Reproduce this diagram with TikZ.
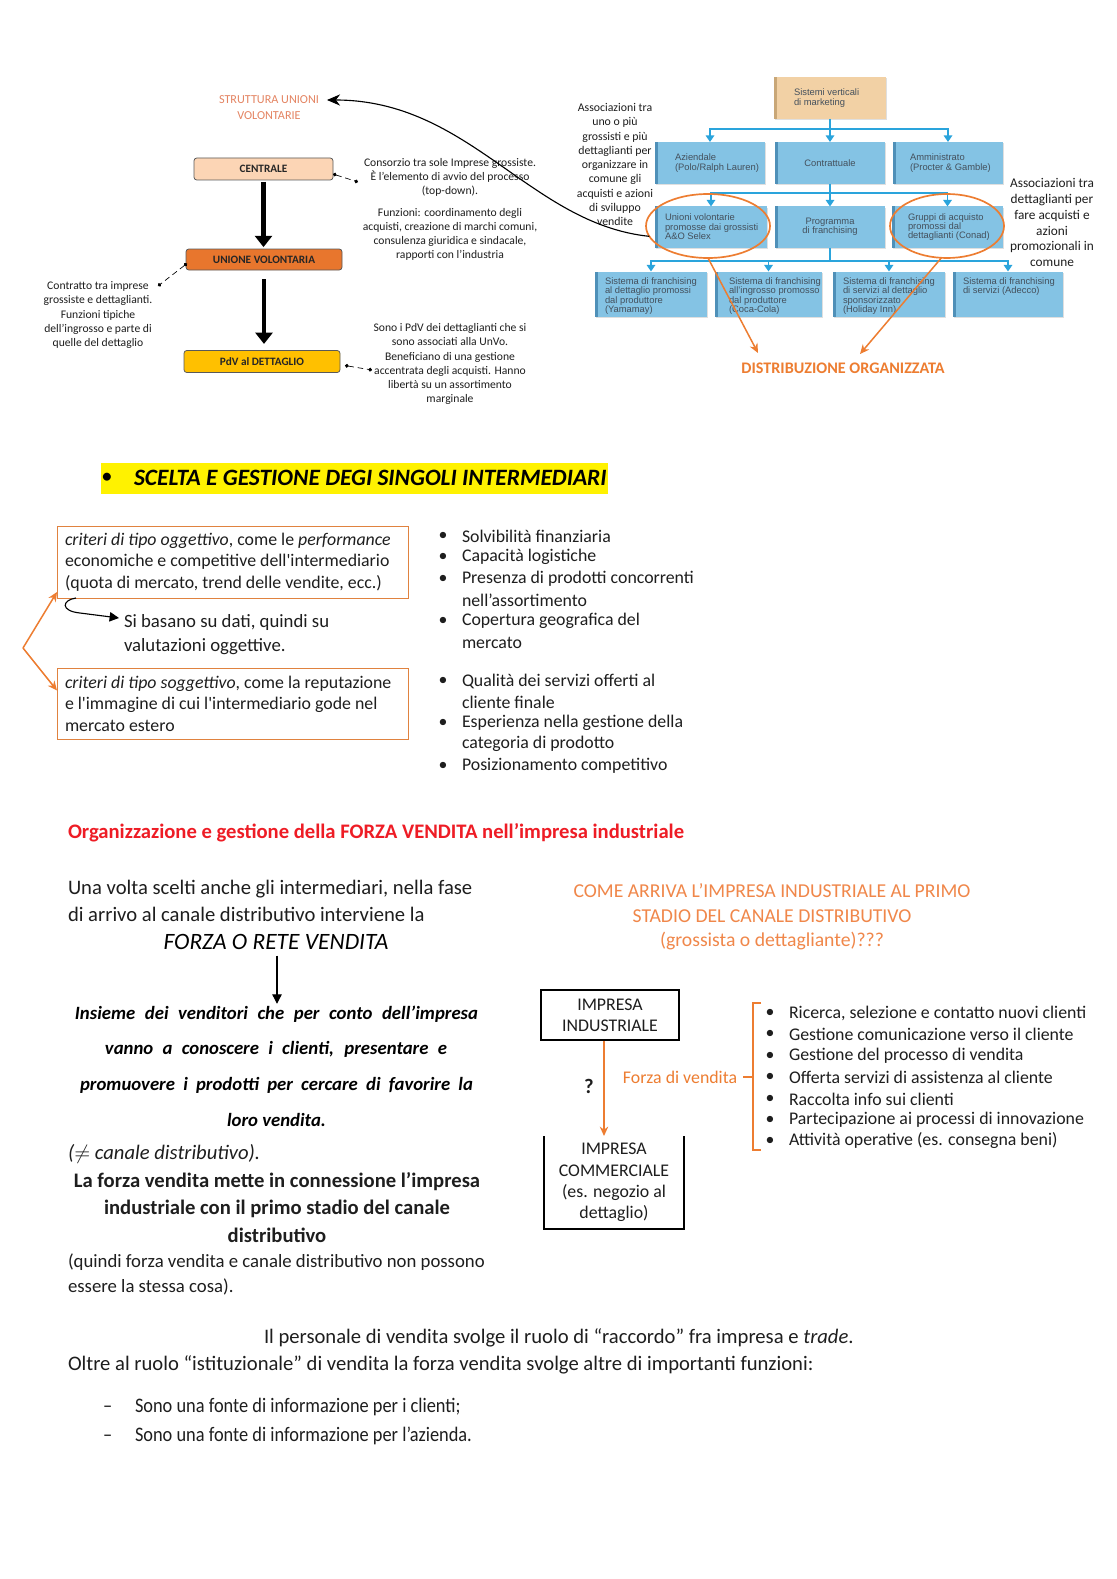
\documentclass[tikz,border=0pt]{standalone}
\usepackage{fontspec}
\setmainfont{Carlito}
\newfontfamily\arialf{Liberation Sans}
\newfontfamily\condf[FakeStretch=0.89]{Carlito}
\usetikzlibrary{arrows.meta,shapes.geometric,calc,shadows}
\newcommand\fs[2]{\fontsize{#1}{#2}\selectfont}
\definecolor{orng}{HTML}{ED7D31}
\definecolor{orngtxt}{HTML}{F0874A}
\definecolor{salmon}{HTML}{E48462}
\definecolor{peach}{HTML}{FCD5B5}
\definecolor{uvfill}{HTML}{E8762D}
\definecolor{gold}{HTML}{FFC000}
\definecolor{chartblue}{HTML}{84C3E4}
\definecolor{chartshadow}{HTML}{4F90B8}
\definecolor{tanshadow}{HTML}{C9A777}
\definecolor{chartline}{HTML}{2AA4DC}
\definecolor{tanfill}{HTML}{F2D1A5}
\definecolor{charttext}{HTML}{44505C}
\definecolor{redh}{HTML}{EE1C25}
\definecolor{txt}{HTML}{1E1E1E}
\definecolor{critborder}{HTML}{E0823F}
\tikzset{
  smalltxt/.style={font=\fs{6.2}{7.5}, align=center, text=txt},
  flowbox/.style={draw=black!65, line width=0.4pt, rounded corners=1.5pt, font=\bfseries\fs{6}{7}, text=black!85},
  bigarrow/.style={line width=2.6pt, -{Triangle[length=6pt,width=9pt]}},
  dotline/.style={densely dashed, line width=0.35pt, {Circle[length=2pt]}-{Circle[length=2pt]}},
  cbox/.style={fill=chartblue,
     drop shadow={opacity=0.25, shadow xshift=0.6pt, shadow yshift=-0.8pt},
     path picture={\fill[chartshadow] (path picture bounding box.south west) rectangle ([xshift=1.4pt]path picture bounding box.north west);}},
  cbx/.style 2 args={cbox, minimum width=(#1)*0.5332pt, minimum height=(#2)*0.5332pt},
  ctext/.style={anchor=west, font=\arialf\fs{5}{5}, text=charttext, align=left},
  cline/.style={draw=chartline, line width=1pt},
  carrow/.style={cline, -{Triangle[length=3.5pt,width=4.5pt]}},
  oarrow/.style={draw=orng, line width=0.8pt, -{Stealth[length=5pt,width=4.5pt]}},
  critbox/.style={draw=critborder, line width=0.5pt},
  crittext/.style={anchor=west, font=\fs{9.5}{11.5}, text=txt, align=left},
  btext/.style={anchor=west, font=\fs{9.5}{11.5}, text=txt},
  bdot/.style={font=\fs{9.5}{11.5}, text=txt},
  body/.style={anchor=west, font=\fs{11}{14.4}, text=txt, align=left},
  hw/.style={font=\bfseries\itshape\fs{10}{12}, text=black},
  impbox/.style={font=\fs{9.5}{11.3}, text=txt, align=center},
  lastline/.style={anchor=base west, font=\fs{11}{13}, text=txt},
  dashline/.style={anchor=base west, font=\condf\fs{11}{13}, text=txt},
}
\begin{document}
\begin{tikzpicture}[x=0.5332pt,y=-0.5332pt, every node/.style={inner sep=0pt, outer sep=0pt}]
\fill[white] (0,0) rectangle (1116,1579);
\useasboundingbox (0,0) rectangle (1116,1579);

% ---------------- top-left diagram
\node[font=\fs{6.5}{8.5}, text=salmon, align=center] (strut) at (269,108) {STRUTTURA UNIONI\\VOLONTARIE};
\node[flowbox, fill=peach, minimum width=139*0.5332pt, minimum height=22*0.5332pt] (centrale) at (263.5,169) {CENTRALE};
\node[flowbox, fill=uvfill, minimum width=156*0.5332pt, minimum height=21*0.5332pt] (unione) at (264,259.5) {UNIONE VOLONTARIA};
\node[flowbox, fill=gold, minimum width=156*0.5332pt, minimum height=22*0.5332pt] (pdv) at (262,361.5) {PdV al DETTAGLIO};
\draw[bigarrow, shorten <=1pt, shorten >=1pt] (centrale.south) -- (centrale.south |- unione.north);
\draw[bigarrow, shorten <=5pt, shorten >=3.5pt] (unione.south) -- (unione.south |- pdv.north);

\node[smalltxt] (cons) at (450,177) {Consorzio tra sole Imprese grossiste.\\È l’elemento di avvio del processo\\(top-down).};
\node[smalltxt] (funz) at (450,234) {Funzioni: coordinamento degli\\acquisti, creazione di marchi comuni,\\consulenza giuridica e sindacale,\\rapporti con l’industria};
\node[smalltxt] (contr) at (98,315) {Contratto tra imprese\\grossiste e dettaglianti.\\Funzioni tipiche\\dell’ingrosso e parte di\\quelle del dettaglio};
\node[smalltxt] (sono) at (450,364) {Sono i PdV dei dettaglianti che si\\sono associati alla UnVo.\\Beneficiano di una gestione\\accentrata degli acquisti. Hanno\\libertà su un assortimento\\marginale};

\coordinate (cd) at (358,182);
\coordinate (ud) at (158,286);
\coordinate (pd) at (372,370);
\draw[dotline] ($(centrale.east)+(0,5)$) -- (cd);
\draw[dotline] ($(unione.west)+(1,4)$) -- (ud);
\draw[dotline] ($(pdv.east)+(5,4)$) -- (pd);

% ---------------- top-right chart
\node[cbx={112}{42}, fill=tanfill, path picture={\fill[tanshadow] (path picture bounding box.south west) rectangle ([xshift=1.4pt]path picture bounding box.north west);}] (sist) at (830,98) {};
\node[ctext] (sistt) at ($(sist.west)+(20,0)$) {Sistemi verticali\\di marketing};

\node[cbx={110}{42}] (azi) at (710,163) {};
\node[ctext] (azit) at ($(azi.west)+(20,0)$) {Aziendale\\(Polo/Ralph Lauren)};
\node[cbx={110}{42}] (con) at (830,163) {};
\node[font=\arialf\fs{5}{5}, text=charttext] (cont) at (con.center) {Contrattuale};
\node[cbx={110}{42}] (amm) at (948,163) {};
\node[ctext] (ammt) at ($(amm.west)+(17,0)$) {Amministrato\\(Procter \& Gamble)};

\node[cbx={112}{41}] (uni) at (711,227) {};
\node[ctext] (unit) at ($(uni.west)+(10,0)$) {Unioni volontarie\\promosse dai grossisti\\A\&O Selex};
\node[cbx={110}{41}] (prog) at (830,227) {};
\node[font=\arialf\fs{5}{5}, text=charttext, align=center] (progt) at (prog.center) {Programma\\di franchising};
\node[cbx={111}{41}] (grp) at (947.5,227) {};
\node[ctext] (grpt) at ($(grp.west)+(16,0)$) {Gruppi di acquisto\\promossi dal\\dettaglianti (Conad)};

\node[cbx={112}{45}] (sf1) at (651,294) {};
\node[ctext, anchor=north west] (sf1t) at ($(sf1.north west)+(10,6)$) {Sistema di franchising\\al dettaglio promossi\\dal produttore\\(Yamamay)};
\node[cbx={107}{45}] (sf2) at (768.5,294) {};
\node[ctext, anchor=north west] (sf2t) at ($(sf2.north west)+(14,6)$) {Sistema di franchising\\all’ingrosso promosso\\dal produttore\\(Coca-Cola)};
\node[cbx={112}{45}] (sf3) at (889,294) {};
\node[ctext, anchor=north west] (sf3t) at ($(sf3.north west)+(10,6)$) {Sistema di franchising\\di servizi al dettaglio\\sponsorizzato\\(Holiday Inn)};
\node[cbx={110}{45}] (sf4) at (1008,294) {};
\node[ctext, anchor=north west] (sf4t) at ($(sf4.north west)+(10,6)$) {Sistema di franchising\\di servizi (Adecco)};

\coordinate (b1) at (830,129);
\coordinate (b2) at (830,193);
\coordinate (b3) at (830,261);
\draw[cline] (sist.south) -- (b1);
\draw[carrow] (b1) -| (azi.north);
\draw[carrow] (b1) -- (con.north);
\draw[carrow] (b1) -| (amm.north);
\draw[cline] (con.south) -- (b2);
\draw[carrow] (b2) -| (uni.north);
\draw[carrow] (b2) -- (prog.north);
\draw[carrow] (b2) -| (grp.north);
\draw[cline] (prog.south) -- (b3);
\draw[carrow] (b3) -| (sf1.north);
\draw[carrow] (b3) -| (sf2.north);
\draw[carrow] (b3) -| (sf3.north);
\draw[carrow] (b3) -| (sf4.north);

\node[draw=orng, line width=0.9pt, ellipse, minimum width=124*0.5332pt, minimum height=64*0.5332pt] (uvell) at (708,226) {};
\node[draw=orng, line width=0.9pt, ellipse, minimum width=114*0.5332pt, minimum height=64*0.5332pt] (gaell) at (947,226) {};

\node[font=\bfseries\fs{8.6}{10}, text=orng] (distr) at (843,368) {DISTRIBUZIONE ORGANIZZATA};
\coordinate (dt1) at (758,353);
\coordinate (dt2) at (860,354);
\draw[oarrow] (uvell.south) -- (dt1);
\draw[oarrow] (gaell.-100) -- (dt2);

\node[font=\fs{6.3}{7.6}, align=center, text=txt] (assl) at (615,164.5) {Associazioni tra\\uno o più\\grossisti e più\\dettaglianti per\\organizzare in\\comune gli\\acquisti e azioni\\di sviluppo\\vendite};
\node[font=\fs{7.1}{8.5}, align=center, text=txt] (assr) at (1052,222.5) {Associazioni tra\\dettaglianti per\\fare acquisti e\\azioni\\promozionali in\\comune};

\draw[line width=0.6pt, -{Stealth[length=7pt,width=6pt]}] (uvell.190) .. controls (530,224) and (470,100) .. ($(strut.east)+(8,-8)$);

% ---------------- scelta e gestione
\node[fill=yellow, minimum width=507*0.5332pt, minimum height=31*0.5332pt] (hl) at (354.5,478.5) {};
\node[font=\fs{12}{13}] (hlb) at (107,478) {•};
\node[anchor=west, font=\bfseries\itshape\fs{12.5}{14}] (hlt) at (134,478) {SCELTA E GESTIONE DEGI SINGOLI INTERMEDIARI};

\node[critbox, minimum width=351*0.5332pt, minimum height=72*0.5332pt] (crit1) at (232.5,562) {};
\node[crittext] (crit1t) at ($(crit1.west)+(8,0)$) {\textit{criteri di tipo oggettivo}, come le \textit{performance}\\economiche e competitive dell\textquotesingle intermediario\\(quota di mercato, trend delle vendite, ecc.)};
\node[critbox, minimum width=351*0.5332pt, minimum height=71*0.5332pt] (crit2) at (232.5,703.5) {};
\node[crittext] (crit2t) at ($(crit2.west)+(8,0)$) {\textit{criteri di tipo soggettivo}, come la reputazione\\e l\textquotesingle immagine di cui l\textquotesingle intermediario gode nel\\mercato estero};

\node[anchor=west, font=\fs{10}{13}, text=txt, align=left] (sib) at (124,634.5) {Si basano su dati, quindi su\\valutazioni oggettive.};
\coordinate (hk) at (76,598);
\coordinate (hktip) at (119,618);
\draw[line width=0.6pt, -{Triangle[length=5pt,width=5pt]}] (hk) .. controls (62,600) and (60,611) .. (80,613) -- (hktip);

\coordinate (lp) at (23,648);
\draw[oarrow] (lp) -- ($(crit1.south west)+(0,-6)$);
\draw[oarrow] (lp) -- ($(crit2.west)+(0,-13)$);

\foreach \yy/\tx [count=\i] in {536/{Solvibilità finanziaria},557/{Capacità logistiche},579/{Presenza di prodotti concorrenti},621/{Copertura geografica del},681/{Qualità dei servizi offerti al},723/{Esperienza nella gestione della},766/{Posizionamento competitivo}}{
  \node[bdot] (rbd\i) at (443,\yy) {•};
  \node[btext] (rbt\i) at (462,\yy) {\tx};
}
\node[btext] (rbc1) at (462,600) {nell’assortimento};
\node[btext] (rbc2) at (462,643) {mercato};
\node[btext] (rbc3) at (462,702) {cliente finale};
\node[btext] (rbc4) at (462,744) {categoria di prodotto};

% ---------------- forza vendita
\node[anchor=west, font=\bfseries\fs{11}{13}, text=redh] (redh) at (68,833) {Organizzazione e gestione della FORZA VENDITA nell’impresa industriale};
\node[body] (una) at (68,900.5) {Una volta scelti anche gli intermediari, nella fase\\di arrivo al canale distributivo interviene la};
\node[font=\itshape\fs{12.5}{14}] (forza) at (276,942) {FORZA O RETE VENDITA};
\node[hw] (hw1) at (276.5,1014) {\makebox[214.9pt][s]{Insieme dei venditori che per conto dell’impresa}};
\node[hw] (hw2) at (276,1049) {\makebox[182.4pt][s]{vanno a conoscere i clienti, presentare e}};
\node[hw] (hw3) at (276.5,1085) {\makebox[209.5pt][s]{promuovere i prodotti per cercare di favorire la}};
\node[hw] (hw4) at (276.5,1120) {loro vendita.};
\draw[line width=0.6pt, -{Triangle[length=5pt,width=5pt]}] ($(forza.south)+(1,6)$) -- ($(hw1.north)+(0.5,-2)$);
\node[anchor=west, font=\itshape\fs{11}{13}, text=txt] (neq) at (68,1154) {($\neq$ canale distributivo).};
\node[font=\bfseries\fs{11}{14.7}, text=txt, align=center] (lafv) at (277,1207.5) {La forza vendita mette in connessione l’impresa\\industriale con il primo stadio del canale\\distributivo};
\node[anchor=west, font=\fs{10}{13.3}, text=txt, align=left] (quindi) at (68,1274.5) {(quindi forza vendita e canale distributivo non possono\\essere la stessa cosa).};

\node[font=\fs{10.5}{13}, text=orngtxt, align=center] (come) at (772,917) {COME ARRIVA L’IMPRESA INDUSTRIALE AL PRIMO\\STADIO DEL CANALE DISTRIBUTIVO\\(grossista o dettagliante)???};
\node[impbox, draw=black, line width=0.6pt, minimum width=138*0.5332pt, minimum height=50*0.5332pt] (imp1) at (610,1015) {IMPRESA\\INDUSTRIALE};
\node[impbox, minimum width=140*0.5332pt, minimum height=93*0.5332pt] (imp2) at (614,1182.5) {IMPRESA\\COMMERCIALE\\(es. negozio al\\dettaglio)};
\draw[line width=0.6pt] (imp2.north west) -- (imp2.south west) -- (imp2.south east) -- (imp2.north east);
\draw[oarrow] ($(imp1.south)+(-6,1)$) -- ($(imp2.north)+(-10,0)$);
\node[font=\bfseries\fs{11}{13}, text=txt] (qm) at (589,1086) {?};
\node[font=\fs{9.5}{11}, text=orng] (fdv) at (680,1077) {Forza di vendita};
\draw[orng, line width=0.9pt] (761,1003) -- (753,1003) -- (753,1150) -- (761,1150);
\draw[orng, line width=0.9pt] ($(fdv.east)+(6,0)$) -- (753,1077);
\foreach \yy/\tx [count=\i] in {1013/{Ricerca, selezione e contatto nuovi clienti},1034/{Gestione comunicazione verso il cliente},1056/{Gestione del processo di vendita},1077/{Offerta servizi di assistenza al cliente},1099/{Raccolta info sui clienti},1120/{Partecipazione ai processi di innovazione},1141/{Attività operative (es. consegna beni)}}{
  \node[bdot] (fbd\i) at (770,\yy) {•};
  \node[btext] (fbt\i) at (789,\yy) {\tx};
}

\node[lastline] (pers) at (264,1343) {Il personale di vendita svolge il ruolo di “raccordo” fra impresa e \textit{trade}.};
\node[lastline] (oltre) at (68,1370) {Oltre al ruolo “istituzionale” di vendita la forza vendita svolge altre di importanti funzioni:};
\node[dashline] (d1t) at (135,1412) {Sono una fonte di informazione per i clienti;};
\node[dashline] (d1) at ($(d1t.base west)+(-32,0)$) {–};
\node[dashline] (d2t) at (135,1441) {Sono una fonte di informazione per l’azienda.};
\node[dashline] (d2) at ($(d2t.base west)+(-32,0)$) {–};
\end{tikzpicture}
\end{document}
